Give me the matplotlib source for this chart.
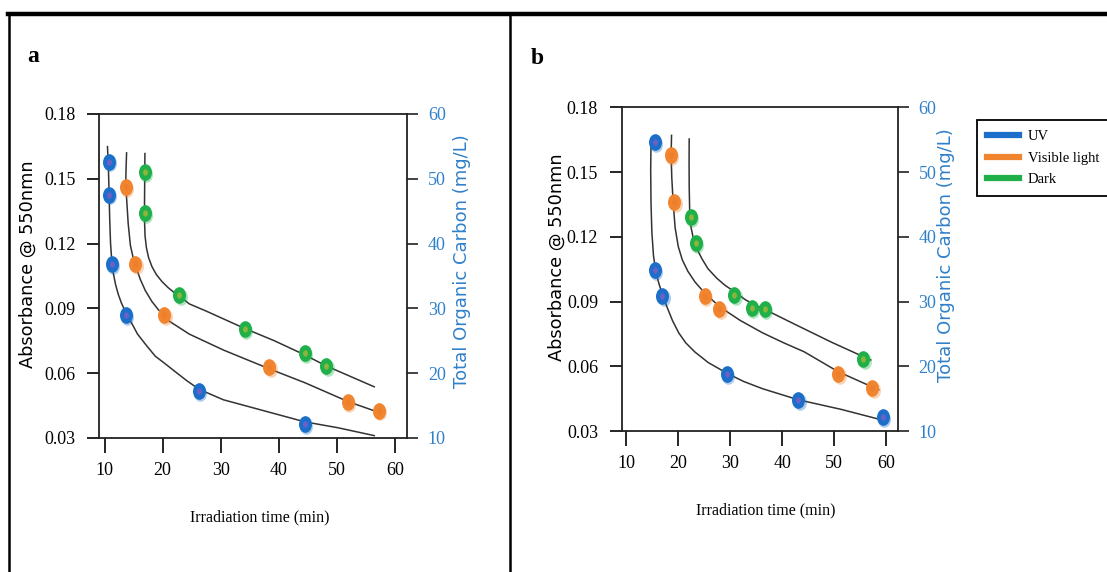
import matplotlib
matplotlib.use('Agg')
import matplotlib.pyplot as plt
from matplotlib.path import Path
from matplotlib.transforms import Affine2D, offset_copy
from matplotlib.lines import Line2D
from matplotlib.ticker import FormatStrFormatter

plt.rcParams['font.family'] = ['Liberation Serif', 'DejaVu Serif']

# ---- panel a : measured points (time in min, absorbance) ----
a_uv_t = [10.8, 10.8, 11.3, 13.7, 26.3, 44.5]
a_uv_abs = [0.158, 0.1427, 0.1106, 0.0869, 0.0516, 0.0366]
a_vis_t = [13.7, 15.3, 20.3, 38.4, 51.9, 57.2]
a_vis_abs = [0.146, 0.1106, 0.0869, 0.063, 0.0465, 0.0427]
a_dark_t = [17.0, 17.0, 22.9, 34.2, 44.5, 48.2]
a_dark_abs = [0.1531, 0.1342, 0.096, 0.0806, 0.0693, 0.0634]

# panel a : fitted curves
a_uv_fit_t = [10.51, 10.66, 10.78, 10.89, 11.04, 11.25, 11.52, 11.9, 12.37, 12.94, 13.66, 14.55,
              15.69, 17.02, 18.73, 20.58, 22.32, 24.24, 26.33, 28.4, 30.47, 36.24, 44.47, 50.29, 56.46]
a_uv_fit_abs = [0.1649, 0.156, 0.1444, 0.1317, 0.12, 0.1122, 0.1062, 0.1011, 0.0965, 0.0923, 0.0882, 0.0838,
                0.0781, 0.0735, 0.0679, 0.0641, 0.0604, 0.0564, 0.0525, 0.0501, 0.0477, 0.0435, 0.0375, 0.0347, 0.0311]
a_vis_fit_t = [13.8, 13.7, 13.66, 14.08, 14.46, 14.93, 15.5, 16.17, 17.02, 18.16, 19.3, 20.3,
               21.2, 24.6, 30.5, 38.5, 44.5, 52.0, 57.1]
a_vis_fit_abs = [0.162, 0.1539, 0.147, 0.1292, 0.1191, 0.1135, 0.1085, 0.1034, 0.0983, 0.0932, 0.0893, 0.0869,
                 0.084, 0.0781, 0.0707, 0.0619, 0.0556, 0.0468, 0.042]
a_dark_fit_t = [16.96, 16.93, 16.89, 16.89, 16.98, 17.21, 17.59, 18.16, 18.92, 19.87, 20.92, 21.97,
                23.19, 24.59, 27.56, 30.52, 34.16, 39.19, 44.47, 48.17, 56.46]
a_dark_fit_abs = [0.1617, 0.1517, 0.1393, 0.1307, 0.1236, 0.1182, 0.1135, 0.1094, 0.1057, 0.1025, 0.0997, 0.0974,
                  0.0951, 0.0921, 0.0887, 0.0851, 0.0807, 0.0751, 0.0685, 0.0634, 0.0537]

# ---- panel b : measured points ----
b_uv_t = [15.5, 15.5, 17.0, 29.4, 43.1, 59.4]
b_uv_abs = [0.1638, 0.1046, 0.0926, 0.0565, 0.0445, 0.0364]
b_vis_t = [18.6, 19.3, 25.2, 27.9, 50.8, 57.3]
b_vis_abs = [0.1577, 0.1362, 0.0926, 0.0866, 0.0565, 0.050]
b_dark_t = [22.4, 23.4, 30.8, 34.2, 36.7, 55.6]
b_dark_abs = [0.129, 0.1169, 0.0931, 0.0871, 0.0866, 0.0632]

# panel b : fitted curves
b_uv_fit_t = [14.79, 14.73, 14.79, 14.96, 15.27, 15.69, 16.26, 17.0, 17.84, 18.95, 20.14, 21.49,
              23.23, 25.8, 29.36, 32.55, 36.22, 43.05, 51.37, 58.87]
b_uv_fit_abs = [0.1634, 0.151, 0.1358, 0.122, 0.1112, 0.1042, 0.0987, 0.0931, 0.0876, 0.081, 0.0754, 0.0708,
                0.0666, 0.0617, 0.0568, 0.053, 0.0496, 0.0445, 0.040, 0.0353]
b_vis_fit_t = [18.74, 18.66, 18.78, 19.05, 19.43, 20.04, 20.81, 21.88, 23.23, 25.16, 28.07, 31.96,
               36.22, 40.35, 44.23, 50.75, 57.32, 58.56]
b_vis_fit_abs = [0.167, 0.1583, 0.1476, 0.1358, 0.1241, 0.1154, 0.1093, 0.104, 0.0991, 0.0938, 0.0874, 0.0812,
                 0.0755, 0.0708, 0.0667, 0.0575, 0.0504, 0.0491]
b_dark_fit_t = [22.13, 22.11, 22.13, 22.22, 22.46, 22.94, 23.62, 24.58, 25.74, 27.43, 29.03, 30.98,
                32.94, 34.31, 36.86, 42.47, 49.52, 57.0]
b_dark_fit_abs = [0.1653, 0.1553, 0.1435, 0.1323, 0.1246, 0.1191, 0.1144, 0.1098, 0.1052, 0.1008, 0.0975, 0.0943,
                  0.0908, 0.089, 0.0861, 0.0794, 0.0711, 0.0629]

abs_ticks = [0.03, 0.06, 0.09, 0.12, 0.15, 0.18]
toc_ticks = [10, 20, 30, 40, 50, 60]
time_ticks = [10, 20, 30, 40, 50, 60]
series_names = ['UV', 'Visible light', 'Dark']
series_colors = ['#1C6FC8', '#F0842F', '#1FB04A']
dot_colors = ['#6C60C8', '#EE7D2C', '#8DB53C']
toc_color = '#2F80CA'

W, H = 1107, 572
fig = plt.figure(figsize=(W / 100, H / 100), dpi=100)


def rect(l, t, r, b):
    return [l / W, 1 - b / H, (r - l) / W, (b - t) / H]


ell = Path.unit_circle().transformed(Affine2D().scale(0.78, 1.0))


def draw_series(ax, t, a, color, dot):
    shadow = offset_copy(ax.transData, fig=fig, x=1.3, y=-1.8, units='dots')
    ax.plot(t, a, ls='none', marker=ell, ms=12, mfc=color, mec='none', alpha=0.35, transform=shadow, zorder=3)
    ax.plot(t, a, ls='none', marker=ell, ms=12, mfc=color, mec='none', zorder=4)
    ax.plot(t, a, ls='none', marker=ell, ms=4.5, mfc=dot, mec='none', zorder=5)


def setup_axes(ax, xlim):
    ax.set_xlim(*xlim)
    ax.set_ylim(0.03, 0.18)
    ax.set_xticks(time_ticks)
    ax.set_yticks(abs_ticks)
    ax.yaxis.set_major_formatter(FormatStrFormatter('%.2f'))
    for s in ax.spines.values():
        s.set_color('#222222')
        s.set_linewidth(1.3)
    ax.tick_params(axis='y', direction='out', length=9, width=1.2, pad=8, labelsize=13)
    ax.tick_params(axis='x', direction='out', length=11, width=1.2, pad=6, labelsize=13)
    axr = ax.twinx()
    axr.set_ylim(10, 60)
    axr.set_yticks(toc_ticks)
    for s in axr.spines.values():
        s.set_visible(False)
    axr.tick_params(axis='y', direction='out', length=8, width=1.2, pad=7,
                    labelsize=13, labelcolor=toc_color, color='#222222')
    return axr


panels = [
    (rect(99, 114, 407, 438), (9.05, 62.1),
     [(a_uv_t, a_uv_abs, a_uv_fit_t, a_uv_fit_abs),
      (a_vis_t, a_vis_abs, a_vis_fit_t, a_vis_fit_abs),
      (a_dark_t, a_dark_abs, a_dark_fit_t, a_dark_fit_abs)]),
    (rect(621.7, 107.3, 897.7, 431), (9.16, 62.2),
     [(b_uv_t, b_uv_abs, b_uv_fit_t, b_uv_fit_abs),
      (b_vis_t, b_vis_abs, b_vis_fit_t, b_vis_fit_abs),
      (b_dark_t, b_dark_abs, b_dark_fit_t, b_dark_fit_abs)]),
]

for pos, xlim, series in panels:
    ax = fig.add_axes(pos)
    setup_axes(ax, xlim)
    for (t, a, ft, fa), c, d in zip(series, series_colors, dot_colors):
        ax.plot(ft, fa, color='#333333', lw=1.1, zorder=2, solid_joinstyle='round')
        draw_series(ax, t, a, c, d)


def ftext(x, y, s, **kw):
    fig.text(x / W, 1 - y / H, s, ha='center', va='center', **kw)


# axis titles and panel letters
ftext(33, 57, 'a', fontsize=17, fontweight='bold')
ftext(537, 58, 'b', fontsize=17, fontweight='bold')
ftext(28, 264, 'Absorbance @ 550nmn', rotation=90, fontsize=12.8, family='DejaVu Sans')
ftext(557, 257, 'Absorbance @ 550nmn', rotation=90, fontsize=12.8, family='DejaVu Sans')
ftext(462, 261, 'Total Organic Carbon (mg/L)', rotation=90, fontsize=13,
      family='DejaVu Sans', color=toc_color)
ftext(946, 255, 'Total Organic Carbon (mg/L)', rotation=90, fontsize=13,
      family='DejaVu Sans', color=toc_color)
ftext(260, 517, 'Irradiation time (min)', fontsize=11.5)
ftext(766, 510, 'Irradiation time (min)', fontsize=11.5)

# outer frame of the two panels
fig.add_artist(Line2D([8 / W, 1], [1 - 14 / H] * 2, color='black', lw=3.2, transform=fig.transFigure))
fig.add_artist(Line2D([8.5 / W] * 2, [0, 1 - 14 / H], color='black', lw=1.8, transform=fig.transFigure))
fig.add_artist(Line2D([510 / W] * 2, [0, 1 - 14 / H], color='black', lw=1.8, transform=fig.transFigure))

handles = [Line2D([], [], color=c, lw=4.5) for c in series_colors]
leg = fig.legend(handles, series_names, loc='upper left', bbox_to_anchor=(977 / W, 1 - 120 / H),
                 frameon=True, fancybox=False, edgecolor='black', framealpha=1,
                 borderaxespad=0, handlelength=2.2, fontsize=10.5, labelspacing=0.55,
                 borderpad=0.7, handletextpad=0.6)
leg.get_frame().set_linewidth(1.3)

fig.savefig('out.png', dpi=100)
